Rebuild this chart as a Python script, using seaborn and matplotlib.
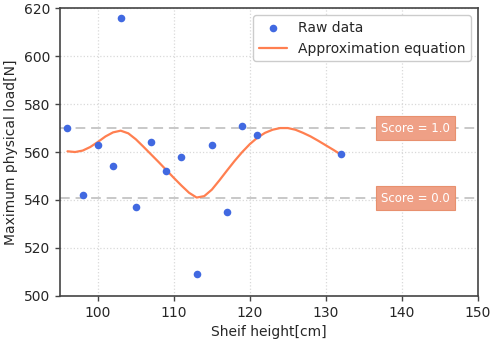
import matplotlib
matplotlib.use('Agg')
import matplotlib.pyplot as plt
import seaborn as sns
import pandas as pd

# raw measurements
shelf_height = [96, 98, 100, 102, 103, 105, 107, 109, 111, 113, 115, 117, 119, 121, 132]
max_load = [570, 542, 563, 554, 616, 537, 564, 552, 558, 509, 563, 535, 571, 567, 559]

# approximation curve
curve_x = [96, 97, 98, 99, 100, 101, 102, 103, 104, 105, 106, 107, 108, 109, 110,
           111, 112, 113, 114, 115, 116, 117, 118, 119, 120, 121, 122, 123, 124,
           125, 126, 127, 128, 129, 130, 131, 132]
curve_y = [560.3, 560.0, 560.6, 562.1, 564.2, 566.5, 568.2, 568.9, 567.8, 565.3,
           562.2, 559.0, 555.8, 552.5, 549.2, 546.0, 543.0, 541.0, 541.6, 544.3,
           548.2, 552.3, 556.3, 560.0, 563.3, 566.0, 568.0, 569.3, 570.0, 570.0,
           569.3, 568.0, 566.5, 564.7, 562.8, 560.9, 558.9]

# score reference levels
score_levels = [570.0, 540.8]
score_labels = ['Score = 1.0', 'Score = 0.0']

df_raw = pd.DataFrame({'x': shelf_height, 'y': max_load})
df_fit = pd.DataFrame({'x': curve_x, 'y': curve_y})

sns.set_style('white')
plt.rcParams['font.family'] = ['DejaVu Sans']

fig, ax = plt.subplots(figsize=(4.91, 3.42), dpi=100)
fig.subplots_adjust(left=0.122, right=0.973, bottom=0.135, top=0.976)

ax.grid(True, linestyle=':', color='#d9d9d9', linewidth=0.9)

for lvl, lab in zip(score_levels, score_labels):
    ax.axhline(lvl, color='#c8c8c8', linestyle=(0, (5, 3)), linewidth=1.4, zorder=1)
    ax.text(141.8, lvl, lab, ha='center', va='center', fontsize=8.5, color='white', zorder=5,
            bbox=dict(boxstyle='square,pad=0.45', fc='#efa086', ec='#e8906e', lw=0.8))

sns.scatterplot(data=df_raw, x='x', y='y', color='royalblue', s=30, linewidth=0,
                label='Raw data', ax=ax, zorder=3)
sns.lineplot(data=df_fit, x='x', y='y', color='#ff7f50', linewidth=1.6,
             label='Approximation equation', ax=ax, zorder=2)

ax.set_xlim(95, 150)
ax.set_ylim(500, 620)
ax.set_xticks([100, 110, 120, 130, 140, 150])
ax.set_yticks([500, 520, 540, 560, 580, 600, 620])
ax.tick_params(axis='both', labelsize=10, length=3.5, width=1, color='#444444',
               direction='out', bottom=True, left=True)
ax.set_xlabel('Sheif height[cm]', fontsize=10)
ax.set_ylabel('Maximum physical load[N]', fontsize=10)

for sp in ax.spines.values():
    sp.set_color('#444444')
    sp.set_linewidth(1.2)

leg = ax.legend(loc='upper right', fontsize=10, frameon=True, framealpha=1)
leg.get_frame().set_edgecolor('#cccccc')

plt.savefig('out.png', dpi=100)
